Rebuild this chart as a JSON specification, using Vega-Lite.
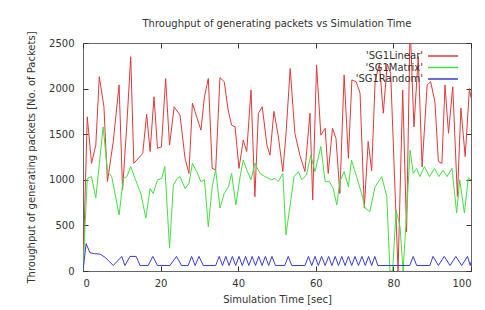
{
  "$schema": "https://vega.github.io/schema/vega-lite/v6.json",
  "width": 388,
  "height": 228,
  "autosize": "none",
  "padding": {"left": 83, "top": 43, "right": 14, "bottom": 39},
  "background": "white",
  "config": {
    "font": "DejaVu Sans",
    "view": {"stroke": "#666", "strokeWidth": 1},
    "axis": {"grid": false, "domain": false, "ticks": true, "tickColor": "#333", "tickWidth": 1, "labelColor": "#333", "titleColor": "#333", "labelFontSize": 10, "titleFontSize": 10, "titleFontWeight": "normal", "tickSize": 5, "offset": -5, "format": "d"}
  },
  "title": {"text": "Throughput of generating packets vs Simulation Time", "fontSize": 10, "fontWeight": "normal", "color": "#333", "offset": 2, "anchor": "middle"},
  "resolve": {"axis": {"x": "independent", "y": "independent"}},
  "datasets": {
    "lin": [
      {"t":0,"v":0},{"t":1.1,"v":1690},{"t":2.2,"v":1180},{"t":3.3,"v":1380},{"t":4.2,"v":2130},{"t":5.4,"v":1800},{"t":6.3,"v":980},{"t":7.8,"v":1420},{"t":9.3,"v":2040},{"t":10.2,"v":890},{"t":11.3,"v":1610},{"t":12.3,"v":2350},{"t":13.1,"v":1180},{"t":15.4,"v":1290},{"t":16.4,"v":1720},{"t":17.3,"v":1310},{"t":18.3,"v":1910},{"t":19.2,"v":1345},{"t":20.2,"v":1360},{"t":21.3,"v":2110},{"t":22.3,"v":1380},{"t":23.5,"v":1800},{"t":25.0,"v":1710},{"t":26.3,"v":1235},{"t":27.3,"v":1070},{"t":28.2,"v":1840},{"t":29.3,"v":1690},{"t":30.4,"v":1545},{"t":31.3,"v":1910},{"t":32.3,"v":2110},{"t":33.3,"v":1125},{"t":34.2,"v":1110},{"t":35.3,"v":2120},{"t":36.4,"v":2075},{"t":37.4,"v":1765},{"t":38.3,"v":1600},{"t":39.2,"v":1580},{"t":40.2,"v":1125},{"t":41.3,"v":1435},{"t":42.2,"v":1310},{"t":43.3,"v":1985},{"t":44.3,"v":815},{"t":45.2,"v":1730},{"t":46.2,"v":1800},{"t":47.4,"v":1380},{"t":48.2,"v":1270},{"t":49.2,"v":1750},{"t":50.3,"v":1490},{"t":51.5,"v":1090},{"t":52.3,"v":1490},{"t":53.4,"v":2220},{"t":54.6,"v":1510},{"t":55.9,"v":1270},{"t":57.2,"v":1090},{"t":58.5,"v":1730},{"t":59.2,"v":780},{"t":60.2,"v":2260},{"t":61.3,"v":1490},{"t":62.4,"v":1565},{"t":63.2,"v":1070},{"t":64.3,"v":1565},{"t":65.2,"v":1455},{"t":66.2,"v":850},{"t":67.3,"v":2150},{"t":68.4,"v":1235},{"t":69.3,"v":2095},{"t":70.4,"v":2075},{"t":71.4,"v":1950},{"t":72.5,"v":690},{"t":73.5,"v":1420},{"t":74.4,"v":1100},{"t":75.3,"v":2090},{"t":76.4,"v":2270},{"t":77.4,"v":1730},{"t":78.4,"v":2270},{"t":79.3,"v":2165},{"t":81.2,"v":0},{"t":82.4,"v":1985},{"t":83.4,"v":430},{"t":84.3,"v":2700},{"t":85.3,"v":1580},{"t":86.4,"v":2350},{"t":87.4,"v":1140},{"t":88.7,"v":2040},{"t":89.6,"v":2075},{"t":90.7,"v":1855},{"t":91.6,"v":1200},{"t":92.5,"v":1180},{"t":93.3,"v":2040},{"t":94.2,"v":1510},{"t":95.3,"v":2020},{"t":96.5,"v":815},{"t":97.4,"v":1785},{"t":98.5,"v":1255},{"t":99.6,"v":2000},{"t":100,"v":1900}
    ],
    "mat": [
      {"t":0,"v":0},{"t":1.1,"v":1015},{"t":2.2,"v":1035},{"t":3.3,"v":800},{"t":5.2,"v":1580},{"t":6.3,"v":1090},{"t":7.4,"v":1035},{"t":9.3,"v":615},{"t":10.4,"v":1015},{"t":11.3,"v":1035},{"t":12.3,"v":1145},{"t":13.4,"v":1015},{"t":14.9,"v":850},{"t":16.2,"v":580},{"t":17.3,"v":905},{"t":18.1,"v":850},{"t":19.2,"v":1000},{"t":20.3,"v":1015},{"t":21.1,"v":1145},{"t":22.3,"v":250},{"t":23.3,"v":945},{"t":24.3,"v":1015},{"t":25.0,"v":1035},{"t":26.3,"v":905},{"t":27.3,"v":960},{"t":28.2,"v":1180},{"t":29.3,"v":1090},{"t":30.4,"v":980},{"t":31.3,"v":1000},{"t":32.3,"v":485},{"t":33.3,"v":925},{"t":34.2,"v":1110},{"t":35.3,"v":690},{"t":36.4,"v":850},{"t":37.5,"v":925},{"t":38.3,"v":1070},{"t":39.4,"v":725},{"t":40.5,"v":1035},{"t":41.3,"v":1215},{"t":42.2,"v":1110},{"t":43.3,"v":1000},{"t":44.3,"v":1180},{"t":45.6,"v":1070},{"t":46.9,"v":1035},{"t":48.6,"v":1000},{"t":49.5,"v":1015},{"t":50.3,"v":980},{"t":51.5,"v":1070},{"t":52.3,"v":395},{"t":53.4,"v":725},{"t":54.4,"v":1035},{"t":55.5,"v":1090},{"t":56.4,"v":1000},{"t":57.6,"v":1055},{"t":58.7,"v":1270},{"t":59.8,"v":1090},{"t":61.3,"v":1365},{"t":62.4,"v":980},{"t":63.5,"v":980},{"t":64.5,"v":905},{"t":65.4,"v":725},{"t":66.2,"v":980},{"t":67.3,"v":1090},{"t":68.4,"v":925},{"t":69.2,"v":1215},{"t":70.5,"v":1035},{"t":71.8,"v":850},{"t":72.7,"v":690},{"t":73.9,"v":650},{"t":75.3,"v":925},{"t":77.0,"v":1035},{"t":78.3,"v":815},{"t":79.1,"v":0},{"t":79.8,"v":0},{"t":80.7,"v":670},{"t":81.7,"v":490},{"t":82.5,"v":0},{"t":83.6,"v":780},{"t":84.3,"v":1325},{"t":85.1,"v":1070},{"t":86.0,"v":1125},{"t":86.8,"v":1035},{"t":88.0,"v":1145},{"t":89.3,"v":1035},{"t":90.6,"v":1125},{"t":91.7,"v":1035},{"t":92.8,"v":1105},{"t":93.8,"v":1035},{"t":95.1,"v":1125},{"t":96.3,"v":635},{"t":97.1,"v":1000},{"t":98.3,"v":635},{"t":99.3,"v":1020},{"t":100,"v":1000}
    ],
    "ran": [
      {"t":0,"v":0},{"t":0.8,"v":300},{"t":1.8,"v":200},{"t":3.0,"v":190},{"t":4.4,"v":185},{"t":5.7,"v":150},{"t":7.8,"v":60},{"t":10.0,"v":160},{"t":10.8,"v":60},{"t":12.1,"v":160},{"t":13.7,"v":160},{"t":14.7,"v":60},{"t":16.8,"v":60},{"t":18.0,"v":160},{"t":19.2,"v":60},{"t":22.4,"v":60},{"t":24.1,"v":160},{"t":25.4,"v":60},{"t":27.1,"v":60},{"t":28.0,"v":160},{"t":28.9,"v":60},{"t":29.9,"v":160},{"t":31.0,"v":60},{"t":34.2,"v":60},
      {"t":35.1,"v":160},{"t":35.95,"v":60},{"t":36.8,"v":160},{"t":37.65,"v":60},{"t":38.5,"v":160},{"t":39.35,"v":60},{"t":40.2,"v":160},{"t":41.05,"v":60},{"t":41.9,"v":160},{"t":42.75,"v":60},{"t":43.6,"v":160},{"t":44.45,"v":60},{"t":45.3,"v":160},{"t":46.15,"v":60},{"t":47.0,"v":160},{"t":47.85,"v":60},{"t":48.7,"v":160},{"t":49.6,"v":60},{"t":52.0,"v":60},{"t":52.9,"v":160},{"t":53.8,"v":60},{"t":57.2,"v":60},
      {"t":58.1,"v":160},{"t":58.95,"v":60},{"t":59.8,"v":160},{"t":60.65,"v":60},{"t":61.5,"v":160},{"t":62.4,"v":60},{"t":63.3,"v":160},{"t":64.15,"v":60},{"t":65.0,"v":160},{"t":65.85,"v":60},{"t":66.7,"v":160},{"t":67.55,"v":60},{"t":68.4,"v":160},{"t":69.25,"v":60},{"t":70.1,"v":160},{"t":71.0,"v":60},{"t":71.9,"v":160},{"t":72.75,"v":60},{"t":73.6,"v":160},{"t":74.4,"v":60},{"t":75.2,"v":160},{"t":76.0,"v":60},{"t":84.2,"v":60},{"t":85.1,"v":160},{"t":86.0,"v":60},{"t":89.4,"v":60},{"t":90.2,"v":160},{"t":91.6,"v":60},{"t":93.1,"v":160},{"t":94.6,"v":60},{"t":96.1,"v":160},{"t":97.6,"v":60},{"t":99.1,"v":160},{"t":99.8,"v":60},{"t":100,"v":100}
    ]
  },
  "layer": [
    {
      "data": {"name": "lin"},
      "transform": [{"calculate": "\"'SG1Linear'\"", "as": "s"}],
      "mark": {"type": "line", "strokeWidth": 1, "clip": true},
      "encoding": {
        "x": {"field": "t", "type": "quantitative", "scale": {"domain": [0, 100], "nice": false}, "axis": {"orient": "bottom", "values": [0,20,40,60,80,100], "title": "Simulation Time [sec]", "titlePadding": 6, "labelPadding": 7}},
        "y": {"field": "v", "type": "quantitative", "scale": {"domain": [0, 2500], "nice": false}, "axis": {"orient": "left", "values": [0,500,1000,1500,2000,2500], "title": "Throughput of generating packets [No. of Packets]", "titlePadding": 12, "labelPadding": 9}},
        "color": {"field": "s", "type": "nominal", "scale": {"domain": ["'SG1Linear'", "'SG1Matrix'", "'SG1Random'"], "range": ["#dd3a3a", "#44dd44", "#3a3acc"]},
          "legend": {"title": null, "orient": "none", "legendX": 354, "legendY": 7, "symbolType": "M-3,0H3", "symbolSize": 100, "symbolStrokeWidth": 1.5, "labelAlign": "right", "labelOffset": -26, "labelFontSize": 10, "labelColor": "#333", "rowPadding": 0.5}}
      }
    },
    {
      "data": {"name": "mat"},
      "transform": [{"calculate": "\"'SG1Matrix'\"", "as": "s"}],
      "mark": {"type": "line", "strokeWidth": 1, "clip": true},
      "encoding": {"x": {"field": "t", "type": "quantitative", "axis": null}, "y": {"field": "v", "type": "quantitative", "axis": null}, "color": {"field": "s", "type": "nominal"}}
    },
    {
      "data": {"name": "ran"},
      "transform": [{"calculate": "\"'SG1Random'\"", "as": "s"}],
      "mark": {"type": "line", "strokeWidth": 1, "clip": true},
      "encoding": {"x": {"field": "t", "type": "quantitative", "axis": {"orient": "top", "values": [0,20,40,60,80,100], "labels": false, "title": null}}, "y": {"field": "v", "type": "quantitative", "axis": {"orient": "right", "values": [0,500,1000,1500,2000,2500], "labels": false, "title": null}}, "color": {"field": "s", "type": "nominal"}}
    }
  ]
}
